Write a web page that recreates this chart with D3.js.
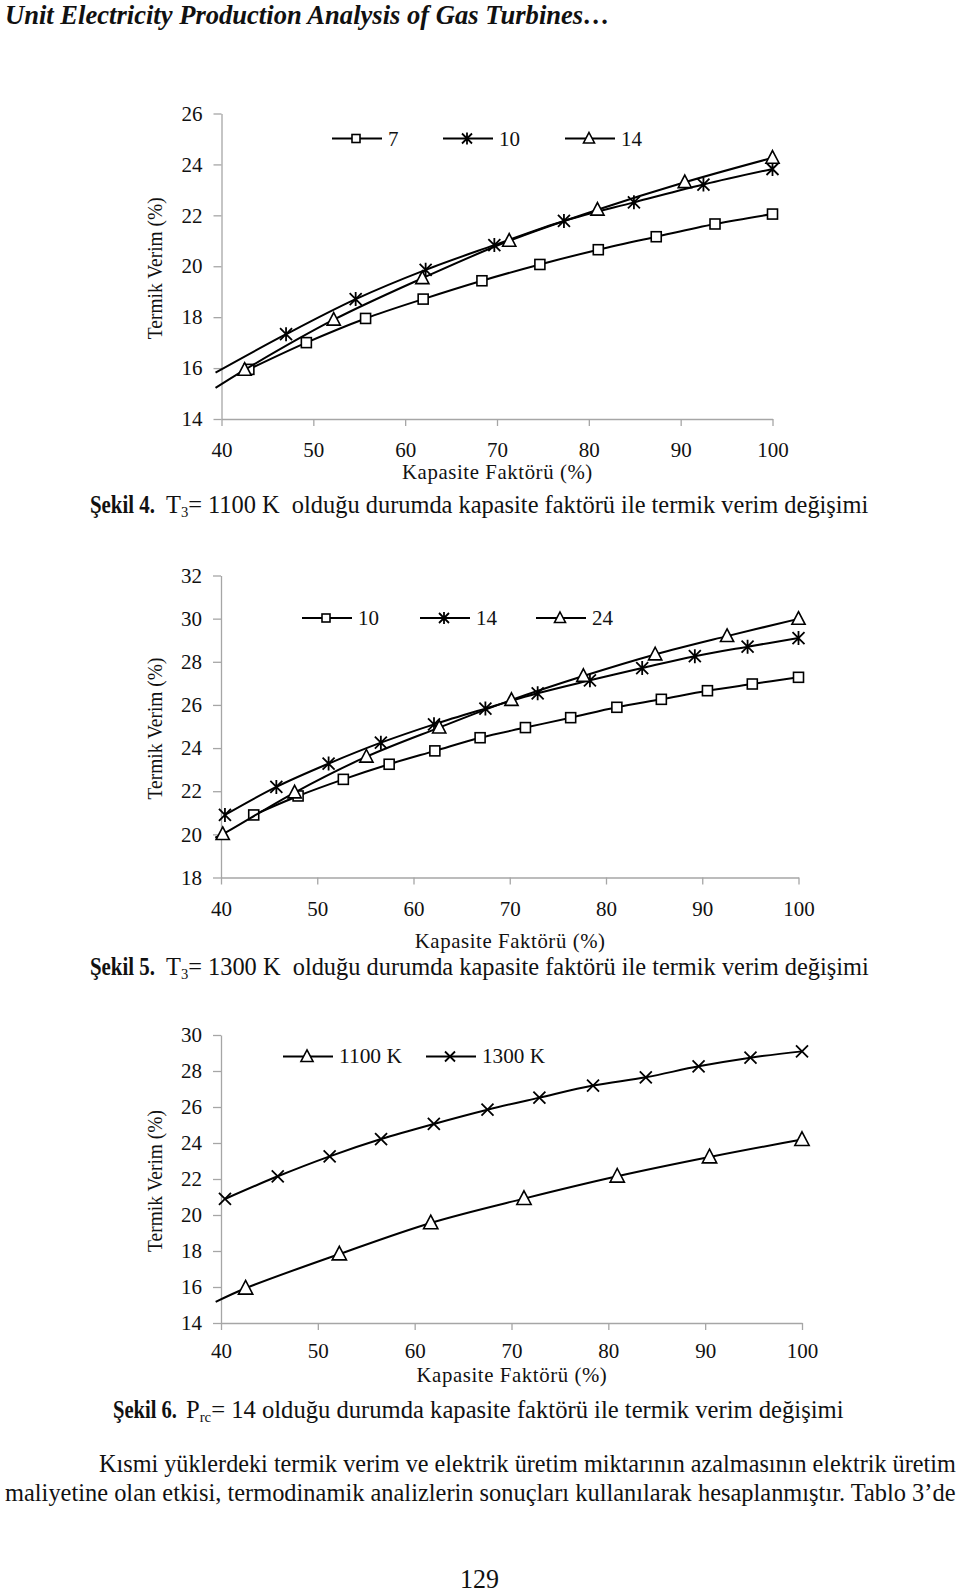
<!DOCTYPE html>
<html><head><meta charset="utf-8">
<script src="https://cdn.jsdelivr.net/npm/d3@7"></script>
<style>
body{margin:0;background:#fff;}
svg text{font-family:"Liberation Serif","Times New Roman",Times,serif;fill:#111;white-space:pre;}
</style></head><body>
<svg id="page" width="960" height="1595"></svg>
<script>
// ================= DATA =================
const xTicks = [40, 50, 60, 70, 80, 90, 100];
const fig4YTicks = [14, 16, 18, 20, 22, 24, 26];
const fig5YTicks = [18, 20, 22, 24, 26, 28, 30, 32];
const fig6YTicks = [14, 16, 18, 20, 22, 24, 26, 28, 30];

// Şekil 4 (T3 = 1100 K), series by pressure ratio
const fig4Names = ["7", "10", "14"];
const fig4_s7 = [[42.98,15.95],[49.24,17.0],[55.69,17.95],[61.96,18.71],[68.36,19.43],[74.67,20.07],[81.03,20.65],[87.34,21.16],[93.74,21.66],[100,22.05]];
const fig4_s10 = [[47.03,17.33],[54.61,18.71],[62.23,19.86],[69.71,20.83],[77.29,21.78],[84.91,22.51],[92.48,23.21],[100,23.82]];
const fig4_s10_lead = [39.35,15.82];
const fig4_s14 = [[42.52,15.93],[52.22,17.9],[61.87,19.53],[71.33,21.0],[80.94,22.22],[90.45,23.3],[100,24.26]];
const fig4_s14_lead = [39.35,15.22];

// Şekil 5 (T3 = 1300 K)
const fig5Names = ["10", "14", "24"];
const fig5_s10 = [[43.4,20.9],[48.01,21.78],[52.71,22.55],[57.47,23.25],[62.22,23.87],[66.92,24.48],[71.63,24.95],[76.33,25.41],[81.13,25.89],[85.75,26.26],[90.54,26.66],[95.2,26.97],[100,27.28]];
const fig5_s14 = [[40.41,20.9],[45.75,22.2],[51.18,23.28],[56.61,24.25],[62.13,25.1],[67.47,25.83],[72.9,26.54],[78.33,27.14],[83.76,27.71],[89.23,28.26],[94.71,28.7],[100,29.1]];
const fig5_s24 = [[40.18,20.01],[47.65,21.94],[55.11,23.6],[62.67,24.95],[70.18,26.23],[77.65,27.34],[85.11,28.34],[92.58,29.19],[100,29.99]];
const fig5_s24_lead = [39.4,19.85];

// Şekil 6 (Prc = 14)
const fig6Names = ["1100 K", "1300 K"];
const fig6_k1100 = [[42.54,15.93],[52.22,17.83],[61.66,19.56],[71.29,20.91],[80.92,22.15],[90.45,23.22],[100,24.19]];
const fig6_k1100_lead = [39.45,15.17];
const fig6_k1300 = [[40.41,20.89],[45.86,22.15],[51.22,23.26],[56.53,24.22],[61.98,25.06],[67.52,25.85],[72.88,26.52],[78.42,27.19],[83.87,27.65],[89.32,28.26],[94.68,28.74],[100,29.09]];

// Texts
const titleText = "Unit Electricity Production Analysis of Gas Turbines\u2026";
const xTitle = "Kapasite Faktörü (%)";
const yTitle = "Termik Verim (%)";
const para1 = "Kısmi yüklerdeki termik verim ve elektrik üretim miktarının azalmasının elektrik üretim";
const para2 = "maliyetine olan etkisi, termodinamik analizlerin sonuçları kullanılarak hesaplanmıştır. Tablo 3\u2019de";
const pageNo = "129";

// ================= DRAWING =================
const svg = d3.select("#page");
const AX = "#a6a6a6";

function fitWidth(t, x, w) {
  const bw = t.node().getComputedTextLength();
  const s = w / bw;
  t.attr("transform", `translate(${x * (1 - s)},0) scale(${s},1)`);
}

function marker(g, type, cx, cy, s) {
  const h = s / 2;
  if (type === "square") {
    g.append("rect").attr("x", cx - h).attr("y", cy - h).attr("width", s).attr("height", s)
      .attr("fill", "#fff").attr("stroke", "#000").attr("stroke-width", 1.6);
  } else if (type === "triangle") {
    g.append("path").attr("d", `M${cx},${cy - s * 0.6}L${cx + s * 0.55},${cy + s * 0.45}L${cx - s * 0.55},${cy + s * 0.45}Z`)
      .attr("fill", "#fff").attr("stroke", "#000").attr("stroke-width", 1.6).attr("stroke-linejoin", "miter");
  } else if (type === "star") {
    g.append("path").attr("d", `M${cx - h},${cy - h}L${cx + h},${cy + h}M${cx - h},${cy + h}L${cx + h},${cy - h}M${cx},${cy - h - 1}L${cx},${cy + h + 1}`)
      .attr("stroke", "#000").attr("stroke-width", 1.8).attr("fill", "none");
  } else if (type === "x") {
    g.append("path").attr("d", `M${cx - h},${cy - h}L${cx + h},${cy + h}M${cx - h},${cy + h}L${cx + h},${cy - h}`)
      .attr("stroke", "#000").attr("stroke-width", 1.8).attr("fill", "none");
  }
}

function drawChart(cfg, yTicks, series, names) {
  const g = svg.append("g");
  const x = d3.scaleLinear().domain([xTicks[0], xTicks[xTicks.length - 1]]).range([cfg.left, cfg.right]);
  const y = d3.scaleLinear().domain([yTicks[0], yTicks[yTicks.length - 1]]).range([cfg.bottom, cfg.top]);

  const gx = g.append("g").attr("transform", `translate(0,${cfg.bottom})`)
    .call(d3.axisBottom(x).tickValues(xTicks).tickSize(7).tickSizeOuter(0).tickPadding(cfg.xPad).tickFormat(d3.format("d")));
  const gy = g.append("g").attr("transform", `translate(${cfg.left},0)`)
    .call(d3.axisLeft(y).tickValues(yTicks).tickSize(8).tickSizeOuter(0).tickPadding(11).tickFormat(d3.format("d")));
  [gx, gy].forEach(a => {
    a.attr("font-family", null).attr("font-size", null);
    a.select(".domain").attr("stroke", AX).attr("stroke-width", 1.3);
    a.selectAll(".tick line").attr("stroke", AX).attr("stroke-width", 1.3);
    a.selectAll(".tick text").attr("font-size", 21).attr("fill", "#111");
  });

  const line = d3.line().x(d => x(d[0])).y(d => y(d[1])).curve(d3.curveCatmullRom.alpha(0.5));
  series.forEach(s => {
    const pts = s.lead ? [s.lead].concat(s.data) : s.data;
    g.append("path").datum(pts).attr("d", line).attr("fill", "none").attr("stroke", "#000").attr("stroke-width", 2);
    s.data.forEach(d => marker(g, s.type, x(d[0]), y(d[1]), s.size));
  });

  // legend
  series.forEach((s, i) => {
    const lx = cfg.legendX[i], ly = cfg.legendY;
    g.append("line").attr("x1", lx).attr("x2", lx + 50).attr("y1", ly).attr("y2", ly).attr("stroke", "#000").attr("stroke-width", 2);
    marker(g, s.type, lx + 24, ly, s.size - 2);
    const lt = g.append("text").attr("x", lx + 56).attr("y", ly + 7).attr("font-size", 21).text(names[i]);
    if (names[i].length > 3) fitWidth(lt, lx + 56, 63);
  });

  // axis titles
  const xs = (cfg.left + cfg.right) / 2 - 95;
  const xt = g.append("text").attr("x", xs).attr("y", cfg.xTitleY)
    .attr("font-size", 21).attr("letter-spacing", 0.6).text(xTitle);
  fitWidth(xt, xs, 191);
  const cy = (cfg.top + cfg.bottom) / 2 + 2;
  const yt = g.append("g").attr("transform", `translate(162,${cy}) rotate(-90)`)
    .append("text").attr("x", -71).attr("font-size", 21).text(yTitle);
  fitWidth(yt, -71, 142);
}

// Title
const tt = svg.append("text").attr("x", 5).attr("y", 24).attr("font-size", 27)
  .attr("font-weight", "bold").attr("font-style", "italic").text(titleText);
fitWidth(tt, 5, 605);

// Chart 1
drawChart({left: 221.5, right: 772.5, top: 113.5, bottom: 419, xPad: 16, xTitleY: 479, legendX: [332, 443, 565], legendY: 138.5},
  fig4YTicks,
  [{data: fig4_s7, type: "square", size: 10},
   {data: fig4_s10, lead: fig4_s10_lead, type: "star", size: 12},
   {data: fig4_s14, lead: fig4_s14_lead, type: "triangle", size: 12}], fig4Names);

// Chart 2
drawChart({left: 221, right: 798.5, top: 575.5, bottom: 877.5, xPad: 17, xTitleY: 948, legendX: [302, 420, 536], legendY: 618},
  fig5YTicks,
  [{data: fig5_s10, type: "square", size: 10},
   {data: fig5_s14, type: "star", size: 12},
   {data: fig5_s24, lead: fig5_s24_lead, type: "triangle", size: 12}], fig5Names);

// Chart 3
drawChart({left: 221, right: 802, top: 1035, bottom: 1323, xPad: 13.5, xTitleY: 1382.5, legendX: [283, 426], legendY: 1056.5},
  fig6YTicks,
  [{data: fig6_k1100, lead: fig6_k1100_lead, type: "triangle", size: 13},
   {data: fig6_k1300, type: "x", size: 12}], fig6Names);

// Captions
function caption(lx, le, rx, re, yb, label, sym, sub, rest) {
  const a = svg.append("text").attr("x", lx).attr("y", yb).attr("font-size", 25).attr("font-weight", "bold").text(label);
  fitWidth(a, lx, le - lx);
  const t = svg.append("text").attr("x", rx).attr("y", yb).attr("font-size", 25);
  t.append("tspan").text(sym);
  t.append("tspan").attr("font-size", 15).attr("dy", 4).text(sub);
  t.append("tspan").attr("dy", -4).text(rest);
  fitWidth(t, rx, re - rx);
}
caption(90, 155, 166, 869, 513, "Şekil 4.", "T", "3", "= 1100 K  olduğu durumda kapasite faktörü ile termik verim değişimi");
caption(90, 155, 166, 869, 975, "Şekil 5.", "T", "3", "= 1300 K  olduğu durumda kapasite faktörü ile termik verim değişimi");
caption(113, 177, 186, 844, 1418, "Şekil 6.", "P", "rc", "= 14 olduğu durumda kapasite faktörü ile termik verim değişimi");

// Paragraph
const p1 = svg.append("text").attr("x", 99).attr("y", 1472).attr("font-size", 25).text(para1);
fitWidth(p1, 99, 857);
const p2 = svg.append("text").attr("x", 5).attr("y", 1501).attr("font-size", 25).text(para2);
fitWidth(p2, 5, 951);
const pn = svg.append("text").attr("x", 460).attr("y", 1588).attr("font-size", 28).text(pageNo);
fitWidth(pn, 460, 39);
</script>
</body></html>
